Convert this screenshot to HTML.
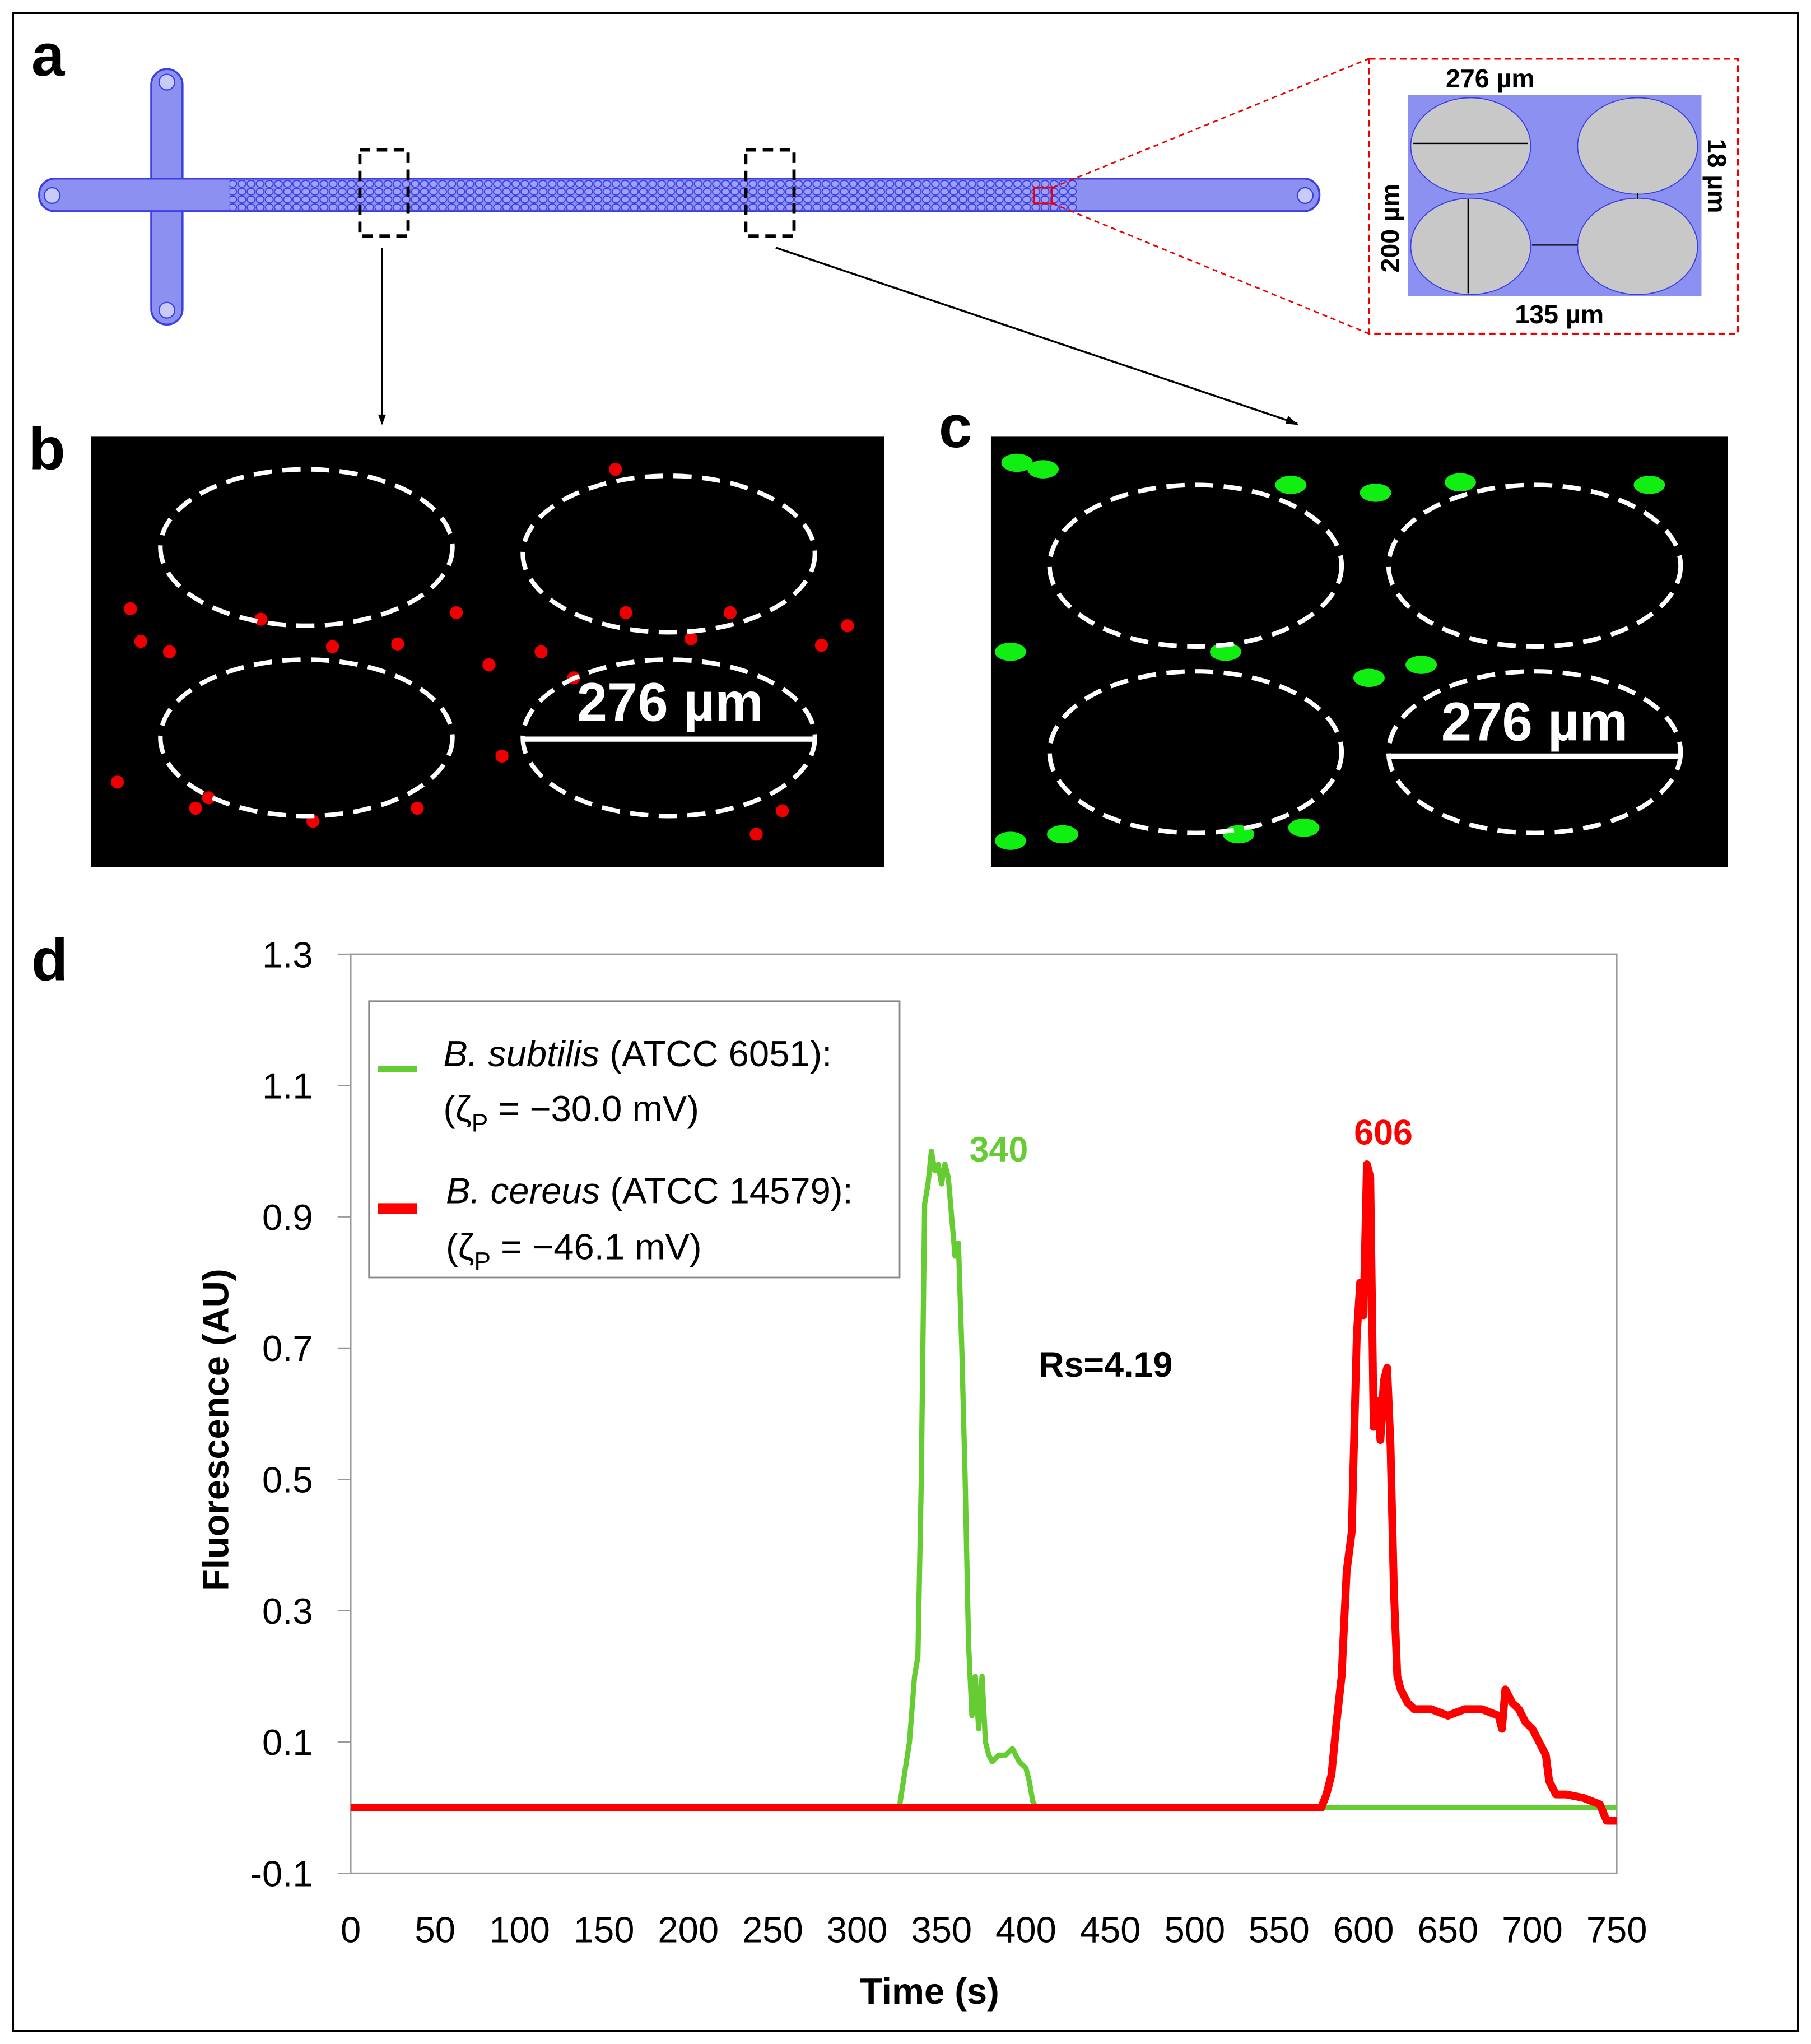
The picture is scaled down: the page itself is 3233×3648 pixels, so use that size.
<!DOCTYPE html>
<html><head><meta charset="utf-8">
<style>
html,body{margin:0;padding:0;background:#fff;}
svg{display:block;}
text{font-family:"Liberation Sans",sans-serif;}
</style></head>
<body>
<svg id="fig" width="3233" height="3648" viewBox="0 0 1389 1568" preserveAspectRatio="none" xmlns="http://www.w3.org/2000/svg">
<defs>
<pattern id="pillars" x="0" y="0" width="7" height="6" patternUnits="userSpaceOnUse">
<rect width="7" height="6" fill="#8c90f0"/>
<ellipse cx="3.5" cy="3" rx="3" ry="2.6" fill="#9da0f5" stroke="#3c3fe0" stroke-width="0.8"/>
</pattern>
</defs>
<rect x="10" y="10" width="1369" height="1548" fill="#fff" stroke="#000" stroke-width="1.5"/>

<!-- Panel a -->
<g>
<text x="24" y="58" font-size="46" font-weight="bold">a</text>
<g>
<rect x="116" y="53" width="24" height="196" rx="12" fill="#8c90f0" stroke="#3c3fe0" stroke-width="1.5"/>
<rect x="30" y="137" width="982" height="25" rx="12" fill="#8c90f0" stroke="#3c3fe0" stroke-width="1.5"/>
<rect x="117" y="138" width="22" height="23" fill="#8c90f0"/>
<rect x="176" y="138" width="650" height="23" fill="url(#pillars)"/>
<circle cx="128" cy="63" r="6" fill="#c8caf8" stroke="#3c3fe0"/>
<circle cx="128" cy="238" r="6" fill="#c8caf8" stroke="#3c3fe0"/>
<circle cx="40" cy="150" r="6" fill="#c8caf8" stroke="#3c3fe0"/>
<circle cx="1001" cy="150" r="6" fill="#c8caf8" stroke="#3c3fe0"/>
</g>
<rect x="276" y="115" width="37" height="66" fill="none" stroke="#000" stroke-width="2.5" stroke-dasharray="8,5"/>
<rect x="572" y="115" width="37" height="66" fill="none" stroke="#000" stroke-width="2.5" stroke-dasharray="8,5"/>
<rect x="793" y="144" width="14" height="12" fill="none" stroke="#e00" stroke-width="1.2"/>
<line x1="293" y1="190" x2="293" y2="325" stroke="#000" stroke-width="1.5"/>
<polygon points="290,318 296,318 293,326" fill="#000"/>
<line x1="595" y1="190" x2="995" y2="325" stroke="#000" stroke-width="1.5"/>
<polygon points="988,319 986,325 996,326" fill="#000"/>
<line x1="807" y1="144" x2="1050" y2="45" stroke="#e00" stroke-width="1.2" stroke-dasharray="4,3"/>
<line x1="807" y1="156" x2="1050" y2="256" stroke="#e00" stroke-width="1.2" stroke-dasharray="4,3"/>
<g>
<rect x="1050" y="45" width="283" height="211" fill="#fff" stroke="#e00" stroke-width="1.5" stroke-dasharray="5,3"/>
<rect x="1080" y="73" width="225" height="154" fill="#8c90f0"/>
<ellipse cx="1128" cy="112" rx="46" ry="37" fill="#c8c8c8" stroke="#3c3fe0" stroke-width="0.8"/>
<ellipse cx="1256" cy="112" rx="46" ry="37" fill="#c8c8c8" stroke="#3c3fe0" stroke-width="0.8"/>
<ellipse cx="1128" cy="189" rx="46" ry="37" fill="#c8c8c8" stroke="#3c3fe0" stroke-width="0.8"/>
<ellipse cx="1256" cy="189" rx="46" ry="37" fill="#c8c8c8" stroke="#3c3fe0" stroke-width="0.8"/>
<line x1="1084" y1="110" x2="1172" y2="110" stroke="#000" stroke-width="1"/>
<line x1="1126" y1="153" x2="1126" y2="225" stroke="#000" stroke-width="1"/>
<line x1="1175" y1="188" x2="1210" y2="188" stroke="#000" stroke-width="1"/>
<line x1="1256" y1="148" x2="1256" y2="153" stroke="#000" stroke-width="1"/>
<text x="1143" y="67" font-size="20" font-weight="bold" text-anchor="middle">276 µm</text>
<text x="1196" y="248" font-size="20" font-weight="bold" text-anchor="middle">135 µm</text>
<text transform="translate(1073,175) rotate(-90)" font-size="20" font-weight="bold" text-anchor="middle">200 µm</text>
<text transform="translate(1310,135) rotate(90)" font-size="20" font-weight="bold" text-anchor="middle">18 µm</text>
</g>
</g>

<!-- Panel b -->
<g>
<text x="22" y="360" font-size="46" font-weight="bold">b</text>
<rect x="70" y="335" width="608" height="330" fill="#000"/>
<g id="dotsB" fill="#f00"></g>
<g fill="none" stroke="#fff" stroke-width="3.5" stroke-dasharray="14,8">
<ellipse cx="235" cy="420" rx="112" ry="60"/><ellipse cx="513" cy="425" rx="112" ry="60"/>
<ellipse cx="235" cy="566" rx="112" ry="60"/><ellipse cx="513" cy="566" rx="112" ry="60"/>
</g>
<line x1="402" y1="567" x2="624" y2="567" stroke="#fff" stroke-width="4"/>
<text x="514" y="553" font-size="42" font-weight="bold" fill="#fff" text-anchor="middle">276 µm</text>
</g>

<!-- Panel c -->
<g>
<text x="720" y="343" font-size="46" font-weight="bold">c</text>
<rect x="760" y="335" width="565" height="330" fill="#000"/>
<g id="dotsC" fill="#2e2"></g>
<g fill="none" stroke="#fff" stroke-width="3.5" stroke-dasharray="14,8">
<ellipse cx="917" cy="434" rx="112" ry="62"/><ellipse cx="1177" cy="434" rx="112" ry="62"/>
<ellipse cx="917" cy="577" rx="112" ry="62"/><ellipse cx="1177" cy="577" rx="112" ry="62"/>
</g>
<line x1="1066" y1="580" x2="1290" y2="580" stroke="#fff" stroke-width="4"/>
<text x="1177" y="568" font-size="42" font-weight="bold" fill="#fff" text-anchor="middle">276 µm</text>
</g>

<!-- Panel d chart -->
<g id="chart">
<text x="24" y="752" font-size="46" font-weight="bold">d</text>
<rect x="269" y="732" width="971" height="705" fill="#fff" stroke="#999" stroke-width="1.2"/>
<g id="axes"></g>
<g id="series"></g>
<text x="713" y="1537" font-size="28" font-weight="bold" text-anchor="middle">Time (s)</text>
<text transform="translate(175,1097) rotate(-90)" font-size="28" font-weight="bold" text-anchor="middle">Fluorescence (AU)</text>
<g>
<rect x="283" y="768" width="407" height="212" fill="#fff" stroke="#888" stroke-width="1.2"/>
<g>
<line x1="290" y1="820" x2="320" y2="820" stroke="#6c3" stroke-width="5"/>
<text x="340" y="818" font-size="28"><tspan font-style="italic">B. subtilis</tspan> (ATCC 6051):</text>
<text x="340" y="860" font-size="28">(ζ<tspan font-size="19" dy="8">P</tspan><tspan dy="-8"> = −30.0 mV)</tspan></text>
</g>
<g>
<line x1="290" y1="927" x2="320" y2="927" stroke="#f00" stroke-width="8"/>
<text x="342" y="923" font-size="28"><tspan font-style="italic">B. cereus</tspan> (ATCC 14579):</text>
<text x="342" y="966" font-size="28">(ζ<tspan font-size="19" dy="8">P</tspan><tspan dy="-8"> = −46.1 mV)</tspan></text>
</g>
</g>
<text x="766" y="891" font-size="27" font-weight="bold" fill="#6c3" text-anchor="middle">340</text>
<text x="1061" y="878" font-size="27" font-weight="bold" fill="#f00" text-anchor="middle">606</text>
<text x="848" y="1056" font-size="27" font-weight="bold" text-anchor="middle">Rs=4.19</text>
</g>

<script>
const xTicks = [0,50,100,150,200,250,300,350,400,450,500,550,600,650,700,750];
const yTicks = [-0.1,0.1,0.3,0.5,0.7,0.9,1.1,1.3];
const greenTime = [0,100,200,300,325,328,331,334,336,338,340,342,344,346,348,350,352,354,356,358,360,362,364,366,368,370,372,374,376,378,380,384,388,392,396,400,402,404,406,410,450,500,550,600,650,700,750];
const greenValue = [0,0,0,0,0,0.05,0.1,0.2,0.23,0.5,0.92,0.95,1.0,0.97,0.98,0.95,0.98,0.96,0.9,0.84,0.86,0.7,0.5,0.25,0.14,0.2,0.12,0.2,0.1,0.08,0.07,0.08,0.08,0.09,0.07,0.06,0.04,0.01,0,0,0,0,0,0,0,0,0];
const redTime = [0,100,200,300,400,500,575,578,581,584,587,590,593,596,598,600,602,604,606,608,610,612,614,616,618,620,622,626,630,640,650,660,670,680,682,684,686,688,692,696,700,704,708,710,714,720,730,740,744,750];
const redValue = [0,0,0,0,0,0,0,0.02,0.05,0.13,0.2,0.36,0.42,0.72,0.8,0.75,0.98,0.96,0.58,0.62,0.56,0.65,0.67,0.55,0.33,0.2,0.18,0.16,0.15,0.15,0.14,0.15,0.15,0.14,0.12,0.18,0.17,0.16,0.15,0.13,0.12,0.1,0.08,0.04,0.02,0.02,0.015,0.005,-0.02,-0.02];

const X0=269,X1=1240,Y0=1437,Y1=732;
const xScale = t => X0 + (t-0)/(750-0)*(X1-X0);
const yScale = v => Y0 - (v-(-0.1))/(1.3-(-0.1))*(Y0-Y1);
const NS='http://www.w3.org/2000/svg';
const axes=document.getElementById('axes');
xTicks.forEach(t=>{
  const tx=document.createElementNS(NS,'text');
  tx.setAttribute('x',xScale(t));tx.setAttribute('y',1490);
  tx.setAttribute('font-size','28');tx.setAttribute('text-anchor','middle');
  tx.textContent=t;
  
  
  axes.appendChild(tx);
});
yTicks.forEach(v=>{
  const tx=document.createElementNS(NS,'text');
  tx.setAttribute('x',240);tx.setAttribute('y',yScale(v)+10);
  tx.setAttribute('font-size','28');tx.setAttribute('text-anchor','end');
  tx.textContent=v.toFixed(1);
  
  
  axes.appendChild(tx);
  const ln=document.createElementNS(NS,'line');
  ln.setAttribute('x1',259);ln.setAttribute('x2',269);
  ln.setAttribute('y1',yScale(v));ln.setAttribute('y2',yScale(v));
  ln.setAttribute('stroke','#999');
  
  
  axes.appendChild(ln);
});
const series=document.getElementById('series');
function drawLine(ts,vs,color,w,name){
  const p=document.createElementNS(NS,'polyline');
  p.setAttribute('points',ts.map((t,i)=>xScale(t)+','+yScale(vs[i])).join(' '));
  p.setAttribute('fill','none');p.setAttribute('stroke',color);
  p.setAttribute('stroke-width',w);p.setAttribute('stroke-linejoin','round');
  
  
  series.appendChild(p);
}
drawLine(greenTime,greenValue,'#6c3',4,'series-b-subtilis');
drawLine(redTime,redValue,'#f00',6,'series-b-cereus');

// micrograph speckles (decorative)
const bSpots=[[100,467],[108,492],[150,620],[160,612],[255,496],[305,494],[375,510],[415,500],[472,360],[530,490],[600,622],[630,495],[320,620],[560,470],[385,580],[200,475],[440,520],[580,640],[350,470],[480,470],[130,500],[650,480],[90,600],[240,630]];
const gB=document.getElementById('dotsB');
bSpots.forEach(s=>{const c=document.createElementNS(NS,'circle');c.setAttribute('cx',s[0]);c.setAttribute('cy',s[1]);c.setAttribute('r',5);c.setAttribute('fill','#e00');gB.appendChild(c);});
const cSpots=[[775,645],[815,640],[990,372],[1055,378],[1120,370],[1265,372],[1050,520],[1090,510],[1000,635],[950,640],[780,355],[800,360],[940,500],[775,500]];
const gC=document.getElementById('dotsC');
cSpots.forEach(s=>{const c=document.createElementNS(NS,'ellipse');c.setAttribute('cx',s[0]);c.setAttribute('cy',s[1]);c.setAttribute('rx',12);c.setAttribute('ry',7);c.setAttribute('fill','#1e1');gC.appendChild(c);});
</script>
</svg>
</body></html>
